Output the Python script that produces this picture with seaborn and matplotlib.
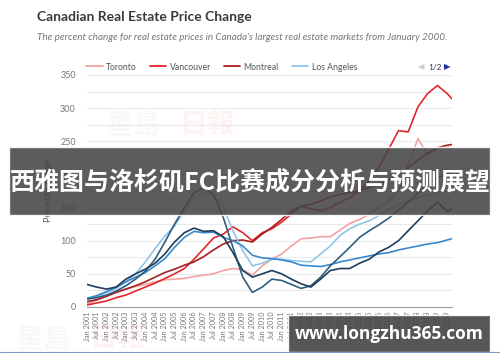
import matplotlib
matplotlib.use('Agg')
import matplotlib.pyplot as plt
from matplotlib.patches import Rectangle
from matplotlib.lines import Line2D
import seaborn as sns
import pandas as pd

# half-year samples, Jan 2001 .. Jul 2019, plus Oct 2019
dates = pd.date_range('2001-01-01', '2019-07-01', freq='6MS').tolist() + [pd.Timestamp('2019-10-01')]

toronto = [5, 10, 17, 22, 27, 31, 34, 38, 41, 42, 43, 46, 48, 50, 55, 58, 56, 48, 62, 72,
           80, 92, 103, 104, 106, 106, 116, 126, 132, 140, 150, 160, 175, 215, 254, 230, 240, 241, 240]
vancouver = [3, 6, 9, 14, 18, 24, 30, 36, 43, 50, 58, 72, 88, 104, 110, 121, 112, 100, 112, 118,
             128, 140, 152, 148, 145, 150, 158, 165, 175, 190, 210, 238, 266, 264, 302, 322, 334, 322, 314]
montreal = [8, 11, 16, 22, 27, 32, 38, 45, 52, 57, 63, 68, 76, 86, 95, 100, 101, 98, 110, 120,
            132, 145, 152, 155, 160, 166, 170, 172, 176, 180, 185, 192, 200, 210, 222, 232, 240, 244, 245]
los_angeles = [11, 16, 22, 28, 38, 50, 68, 88, 107, 122, 145, 165, 172, 168, 150, 115, 85, 62, 66, 72,
               72, 70, 69, 68, 80, 92, 108, 118, 125, 130, 138, 148, 154, 160, 165, 168, 172, 175, 176]
new_york = [13, 17, 23, 30, 38, 45, 52, 62, 73, 90, 105, 114, 112, 113, 105, 100, 92, 78, 74, 73,
            71, 68, 63, 62, 61, 64, 68, 71, 74, 77, 80, 82, 86, 89, 92, 95, 97, 101, 103]
las_vegas = [12, 14, 18, 24, 32, 42, 54, 72, 98, 125, 150, 172, 180, 170, 135, 90, 45, 22, 30, 42,
             40, 34, 28, 32, 45, 62, 76, 90, 105, 115, 124, 134, 146, 158, 172, 185, 195, 200, 202]
miami = [34, 30, 27, 30, 42, 50, 57, 66, 80, 98, 112, 119, 114, 115, 106, 82, 55, 45, 50, 55,
         50, 42, 35, 30, 42, 55, 58, 58, 66, 72, 83, 90, 100, 115, 130, 145, 158, 144, 148]

cities = ['Toronto', 'Vancouver', 'Montreal', 'Los Angeles', 'New York', 'Las Vegas', 'Miami']
series = [toronto, vancouver, montreal, los_angeles, new_york, las_vegas, miami]
colors = ['#f3a2a4', '#e3262c', '#a61e25', '#8ec4ea', '#3a88cc', '#2e5f80', '#1f3d5c']

tick_dates = pd.date_range('2001-01-01', '2019-07-01', freq='6MS')
tick_labels = [d.strftime('%b %Y') for d in tick_dates]

df = pd.DataFrame({
    'date': dates * len(cities),
    'value': sum(series, []),
    'city': [c for c in cities for _ in dates],
})

sns.set_theme(style='white')
plt.rcParams['font.family'] = ['Lato', 'DejaVu Sans']

fig = plt.figure(figsize=(5, 3.62), dpi=100)
ax = fig.add_axes([0.174, 0.152, 0.73, 0.641])
sns.lineplot(data=df, x='date', y='value', hue='city', hue_order=cities,
             palette=dict(zip(cities, colors)), linewidth=1.2, ax=ax, legend=False)

ax.set_xlim(pd.Timestamp('2001-01-01'), pd.Timestamp('2019-10-01'))
ax.set_ylim(0, 350)
ax.set_yticks(range(0, 351, 50))
ax.set_yticks(range(25, 350, 50), minor=True)
ax.grid(True, which='both', axis='y', color='#e6e6e6', linewidth=0.6)
ax.set_xticks(tick_dates)
ax.set_xticklabels(tick_labels, rotation=90, fontsize=5.2, color='#777777')
ax.tick_params(axis='y', labelsize=6.5, labelcolor='#777777', length=0, pad=8)
ax.tick_params(axis='x', length=0, pad=3)
for s in ['top', 'right', 'left']:
    ax.spines[s].set_visible(False)
ax.spines['bottom'].set_color('#999999')
ax.spines['bottom'].set_linewidth(0.8)
ax.set_xlabel('')
ax.set_ylabel('Percent Change', fontsize=6.5, color='#555555', labelpad=5)

# legend (page 1 of 2)
handles = [Line2D([], [], color=c, linewidth=1.3) for c in colors[:4]]
fig.legend(handles, cities[:4], loc='center left', bbox_to_anchor=(0.166, 1 - 67 / 362),
           ncol=4, frameon=False, fontsize=6.2, labelcolor='#555555',
           handlelength=1.9, columnspacing=1.5, handletextpad=0.4, borderaxespad=0)
fig.text(0.836, 1 - 67 / 362, '◀', fontsize=6, color='#cccccc', va='center', family='DejaVu Sans')
fig.text(0.856, 1 - 67 / 362, '1/2', fontsize=6, color='#333366', va='center')
fig.text(0.887, 1 - 67 / 362, '▶', fontsize=6, color='#1a2fa0', va='center', family='DejaVu Sans')

# titles
fig.text(0.074, 1 - 17 / 362, 'Canadian Real Estate Price Change', fontsize=10,
         fontweight='bold', color='#3a3a3a', va='center')
fig.text(0.074, 1 - 38 / 362,
         "The percent change for real estate prices in Canada's largest real estate markets from January 2000.",
         fontsize=7.1, style='italic', color='#777777', va='center')

# faint newspaper watermarks
for x, y in [(0.21, 1 - 126 / 362), (0.03, 1 - 340 / 362)]:
    fig.text(x, y, '星島', fontsize=20, fontweight='bold', color='#9aa8b8', alpha=0.07,
             va='center', family=['Noto Sans CJK TC'])
    fig.text(x + 0.15, y, '日報', fontsize=20, fontweight='bold', color='#e04040', alpha=0.06,
             va='center', family=['Noto Sans CJK TC'])

# overlay banners
fig.add_artist(Rectangle((9 / 500, 1 - 215 / 362), 481 / 500, 68 / 362, transform=fig.transFigure,
                         facecolor='#454545', alpha=0.88, zorder=10))
fig.text(0.5, 1 - 183 / 362, '西雅图与洛杉矶FC比赛成分分析与预测展望', fontsize=18,
         fontweight='bold', color='white', ha='center', va='center', zorder=11,
         family=['Noto Sans CJK SC', 'DejaVu Sans'])
fig.add_artist(Rectangle((288 / 500, 1 - 352 / 362), 202 / 500, 37 / 362, transform=fig.transFigure,
                         facecolor='#454545', alpha=0.9, zorder=10))
fig.text(389 / 500, 1 - 334 / 362, 'www.longzhu365.com', fontsize=12.5, fontweight='bold',
         color='white', ha='center', va='center', zorder=11, family=['Open Sans', 'DejaVu Sans'])
fig.add_artist(Line2D([0, 1], [1 - 352 / 362] * 2, transform=fig.transFigure,
                      color='#7f9cc4', linewidth=0.8, zorder=12))

fig.savefig('out.png', dpi=100)
